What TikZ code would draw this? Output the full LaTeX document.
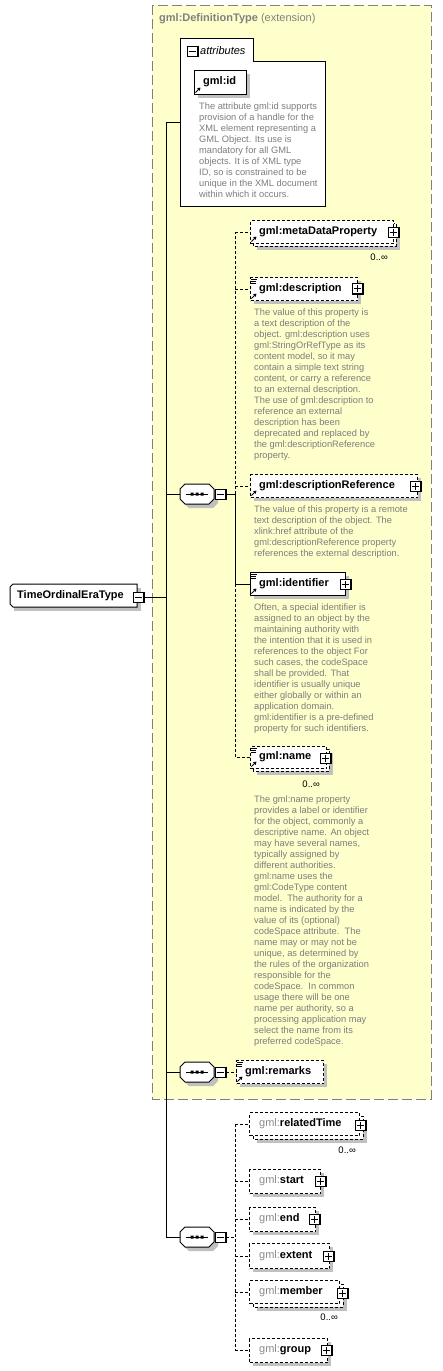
\documentclass[tikz,border=0pt]{standalone}
\usepackage{fontspec}
\setmainfont{Liberation Sans}
\usetikzlibrary{arrows.meta}
\definecolor{ylw}{RGB}{255,255,204}
\definecolor{frameg}{RGB}{128,128,128}
\definecolor{shad}{RGB}{192,192,192}
\definecolor{doct}{RGB}{125,125,125}
\definecolor{gmlg}{RGB}{140,140,140}
\tikzset{
  lbl/.style={font=\fontsize{11}{13}\selectfont\bfseries, inner sep=0, anchor=west},
  doc/.style={font=\fontsize{9.3}{11}\selectfont, text=doct, align=left, inner sep=0, anchor=north west},
  card/.style={font=\fontsize{9.5}{11}\selectfont, inner sep=0, anchor=east},
  conn/.style={line width=1pt},
  opt/.style={line width=1pt, dash pattern=on 3pt off 2pt},
  solidb/.style={line width=1pt},
  ebox/.style={draw, line width=1pt, fill=white, anchor=north west, inner sep=0},
  pmsq/.style={draw, line width=1pt, fill=white, minimum size=10pt, inner sep=0},
}
\newcommand\pmbox[4]{%
  \node[pmsq] (#1) at (#2,#3) {};
  \draw[line width=1pt] (#1.north east) ++(0.5,0) -- ++(0,11) -- ++(-11,0);
  \draw[line width=0.9pt] (#2-3.5,#3) -- (#2+3.5,#3);
  \ifnum#4=1 \draw[line width=0.9pt] (#2,#3-3.5) -- (#2,#3+3.5);\fi}
\newcommand\elsingle[6]{%
  \fill[shad] (#2+4,#3+4) rectangle (#4+4,#5+4);
  \node[ebox,#6,minimum width={#4-#2},minimum height={#5-#3}] (#1) at (#2,#3) {};}
\newcommand\elmulti[7]{%
  \fill[shad] (#2+#7+4,#3+#7+4) rectangle (#4+#7+4,#5+#7+4);
  \draw[#6,fill=white] (#2+#7,#3+#7) rectangle (#4+#7,#5+#7);
  \node[ebox,#6,minimum width={#4-#2},minimum height={#5-#3}] (#1) at (#2,#3) {};}
\newcommand\docicon[2]{%
  \draw[line width=0.8pt] (#1+1,#2+2) -- (#1+7,#2+2) (#1+1,#2+4) -- (#1+6,#2+4) (#1+1,#2+6) -- (#1+6,#2+6);}
\newcommand\refarrow[2]{%
  \draw[line width=0.9pt,-{Triangle[length=3pt,width=3.5pt]}] (#1+1.5,#2-1.5) -- (#1+6.5,#2-6.5);}
\newcommand\seqsym[3]{%
  \begin{scope}[shift={(#2,#3)}]
    \fill[shad] (-12+4,-10+4) -- (12+4,-10+4) -- (17+4,-5+4) -- (17+4,5+4) -- (12+4,10+4) -- (-12+4,10+4) -- (-17+4,5+4) -- (-17+4,-5+4) -- cycle;
    \draw[line width=1pt, fill=white] (-12,-10) -- (12,-10) -- (17,-5) -- (17,5) -- (12,10) -- (-12,10) -- (-17,5) -- (-17,-5) -- cycle;
    \draw[line width=1pt] (-11,0) -- (11,0);
    \fill (-6.5,-1.5) rectangle (-3.5,1.5) (-1.5,-1.5) rectangle (1.5,1.5) (3.5,-1.5) rectangle (6.5,1.5);
    \coordinate (#1-w) at (-17,0);
  \end{scope}
  \pmbox{#1-pm}{#2+23}{#3}{0}}

\begin{document}
\begin{tikzpicture}[x=1pt,y=-1pt]
\useasboundingbox (0,0) rectangle (442,1371);
\fill[white] (0,0) rectangle (442,1371);

% extension frame
\draw[frameg, line width=1pt, dash pattern=on 10pt off 4pt, fill=ylw] (152,5) rectangle (431,1099);
\node[anchor=west, inner sep=0, font=\fontsize{11}{13}\selectfont, text=frameg] (ttl) at (159,19) {\textbf{gml:DefinitionType} (extension)};

% attributes
\draw[line width=1pt, fill=white] (180,206) -- (180,38) -- (253,38) -- (253,61) -- (325,61) -- (325,206) -- cycle;
\coordinate (attrL) at (180,122);
\pmbox{attr-pm}{192}{51}{0}
\node[anchor=west, inner sep=0, font=\fontsize{11}{13}\selectfont\itshape] (attr-t) at (200,51) {attributes};
\elsingle{gid}{194}{70}{246}{94}{solidb}
\node[lbl] (gid-t) at (203,82) {gml:id};
\refarrow{194}{94}
\node[doc] (gid-d) at (199,102.5) {The attribute gml:id supports\\provision of a handle for the\\XML element representing a\\GML Object. Its use is\\mandatory for all GML\\objects. It is of XML type\\ID, so is constrained to be\\unique in the XML document\\within which it occurs.};

% root
\fill[shad] (14,588) rectangle (141,611);
\draw[line width=1pt, fill=white] (13,584) -- (137,584) -- (137,607) -- (13,607) -- (10,604) -- (10,587) -- cycle;
\node[lbl] (root) at (17,596) {TimeOrdinalEraType};
\pmbox{root-pm}{138}{597}{0}

% trunk
\coordinate (trtop) at (166,122);
\coordinate (trbot) at (166,1237);

% sequences
\seqsym{s1}{197}{494}
\seqsym{s2}{197}{1072}
\seqsym{s3}{197}{1237}

% sequence 1 children
\elmulti{md}{250}{220}{393}{243}{opt}{3}
\node[lbl] (md-t) at (259,231.5) {gml:metaDataProperty};
\refarrow{250}{243}
\pmbox{md-pm}{393}{232}{1}
\node[card] (md-c) at (388,257) {0..∞};

\elsingle{desc}{250}{277}{357}{300}{opt}
\node[lbl] (desc-t) at (259,288.5) {gml:description};
\docicon{250}{277}
\refarrow{250}{300}
\pmbox{desc-pm}{357}{288.5}{1}
\node[doc] (desc-d) at (254,308.5) {The value of this property is\\a text description of the\\object. gml:description uses\\gml:StringOrRefType as its\\content model, so it may\\contain a simple text string\\content, or carry a reference\\to an external description.\\The use of gml:description to\\reference an external\\description has been\\deprecated and replaced by\\the gml:descriptionReference\\property.};

\elsingle{dref}{250}{474}{417}{497}{opt}
\node[lbl] (dref-t) at (259,485.5) {gml:descriptionReference};
\refarrow{250}{497}
\pmbox{dref-pm}{415}{486}{1}
\node[doc] (dref-d) at (254,505.5) {The value of this property is a remote\\text description of the object. The\\xlink:href attribute of the\\gml:descriptionReference property\\references the external description.};

\elsingle{ident}{250}{572}{345}{595}{solidb}
\node[lbl] (ident-t) at (259,583.5) {gml:identifier};
\docicon{250}{572}
\refarrow{250}{595}
\pmbox{ident-pm}{345}{584}{1}
\node[doc] (ident-d) at (254,603.5) {Often, a special identifier is\\assigned to an object by the\\maintaining authority with\\the intention that it is used in\\references to the object For\\such cases, the codeSpace\\shall be provided. That\\identifier is usually unique\\either globally or within an\\application domain.\\gml:identifier is a pre-defined\\property for such identifiers.};

\elmulti{name}{250}{746}{326}{768}{opt}{3}
\node[lbl] (name-t) at (259,757) {gml:name};
\docicon{250}{746}
\refarrow{250}{768}
\pmbox{name-pm}{325}{758}{1}
\node[card] (name-c) at (320,784) {0..∞};
\node[doc] (name-d) at (254,795.5) {The gml:name property\\provides a label or identifier\\for the object, commonly a\\descriptive name. An object\\may have several names,\\typically assigned by\\different authorities.\\gml:name uses the\\gml:CodeType content\\model.\ \ The authority for a\\name is indicated by the\\value of its (optional)\\codeSpace attribute.\ \ The\\name may or may not be\\unique, as determined by\\the rules of the organization\\responsible for the\\codeSpace.\ \ In common\\usage there will be one\\name per authority, so a\\processing application may\\select the name from its\\preferred codeSpace.};

% sequence 2 child
\elsingle{rem}{236}{1060}{323}{1083}{opt}
\node[lbl] (rem-t) at (245,1071.5) {gml:remarks};
\docicon{236}{1060}
\refarrow{236}{1083}

% sequence 3 children
\elmulti{rt}{249}{1112}{359}{1135}{opt}{4}
\node[lbl] (rt-t) at (259,1123.5) {\textcolor{gmlg}{\mdseries gml:}relatedTime};
\pmbox{rt-pm}{360}{1125}{1}
\node[card] (rt-c) at (356,1150) {0..∞};

\elsingle{st}{249}{1169}{320}{1193}{opt}
\node[lbl] (st-t) at (259,1181) {\textcolor{gmlg}{\mdseries gml:}start};
\pmbox{st-pm}{320}{1181}{1}

\elsingle{en}{249}{1207}{315}{1231}{opt}
\node[lbl] (en-t) at (259,1219) {\textcolor{gmlg}{\mdseries gml:}end};
\pmbox{en-pm}{314.5}{1219}{1}

\elsingle{ex}{249}{1243}{329}{1268}{opt}
\node[lbl] (ex-t) at (259,1255.5) {\textcolor{gmlg}{\mdseries gml:}extent};
\pmbox{ex-pm}{328.5}{1256}{1}

\elmulti{mem}{249}{1280}{339}{1303}{opt}{4}
\node[lbl] (mem-t) at (259,1291.5) {\textcolor{gmlg}{\mdseries gml:}member};
\pmbox{mem-pm}{342.5}{1293}{1}
\node[card] (mem-c) at (338,1317) {0..∞};

\elsingle{grp}{249}{1338}{327}{1362}{opt}
\node[lbl] (grp-t) at (259,1350) {\textcolor{gmlg}{\mdseries gml:}group};
\pmbox{grp-pm}{326.5}{1350}{1}

% connectors
\draw[conn] (attrL) -- (trtop) -- (trbot) -- (s3-w);
\draw[conn] (root-pm.east) -- (root-pm.east -| trtop);
\draw[conn] (s1-w) -- (s1-w -| trtop);
\draw[conn] (s2-w) -- (s2-w -| trtop);

\coordinate (c1) at (235,494);
\draw[conn] (s1-pm.east) -- (c1);
\draw[opt] (c1) -- (c1 |- md);
\draw[opt] (c1 |- md) -- (md.west);
\draw[opt] (c1 |- desc) -- (desc.west);
\draw[opt] (c1 |- dref) -- (dref.west);
\draw[conn] (c1) -- (c1 |- ident) -- (ident.west);
\draw[opt] (c1 |- ident) -- (c1 |- name) -- (name.west);

\draw[opt] (s2-pm.east) -- (s2-pm.east -| rem.west);

\coordinate (c3) at (235,1237);
\draw[opt] (s3-pm.east) -- (c3);
\draw[opt] (c3 |- rt) -- (c3 |- grp);
\draw[opt] (c3 |- rt) -- (rt.west);
\draw[opt] (c3 |- st) -- (st.west);
\draw[opt] (c3 |- en) -- (en.west);
\draw[opt] (c3 |- ex) -- (ex.west);
\draw[opt] (c3 |- mem) -- (mem.west);
\draw[opt] (c3 |- grp) -- (grp.west);
\end{tikzpicture}
\end{document}
